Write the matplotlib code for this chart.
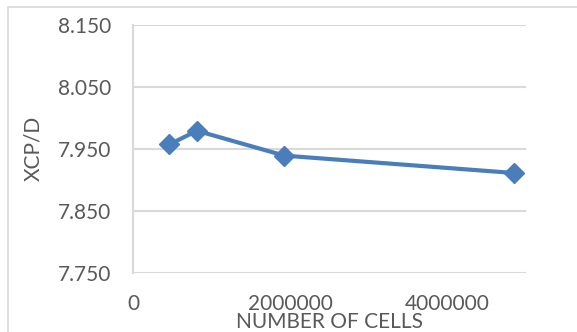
import numpy as np
import matplotlib.pyplot as plt
from matplotlib.patches import Rectangle

# mesh study: number of cells vs XCP/D
cells = [462000, 814000, 1925000, 4850000]
xcp_d = [7.957, 7.979, 7.939, 7.911]

y_ticks = [7.750, 7.850, 7.950, 8.050, 8.150]
x_ticks = [0, 2000000, 4000000]

plt.rcParams['font.family'] = ['Lato', 'DejaVu Sans']

fig = plt.figure(figsize=(5.77, 3.32), dpi=100)
ax = fig.add_axes([0.2305, 0.1777, 0.681, 0.7483])

# chart border
fig.patches.append(Rectangle((8 / 577, -0.1), 1.2, 1 - 7 / 332 + 0.1,
                             transform=fig.transFigure, fill=False,
                             edgecolor='#d9d9d9', linewidth=1.2))

ax.plot(cells, xcp_d, color='#4a7ebb', linewidth=3, marker='D',
        markersize=10, zorder=3)

ax.set_xlim(0, 5000000)
ax.set_ylim(7.750, 8.150)
ax.set_xticks(x_ticks)
ax.set_xticklabels([str(v) for v in x_ticks])
ax.set_yticks(y_ticks)
ax.set_yticklabels([f'{v:.3f}' for v in y_ticks])

ax.grid(axis='y', color='#d9d9d9', linewidth=1.5)
ax.set_axisbelow(True)
for side in ['top', 'right', 'bottom']:
    ax.spines[side].set_visible(False)
ax.spines['left'].set_color('#d9d9d9')
ax.spines['left'].set_linewidth(1.5)

ax.tick_params(axis='both', length=0, labelsize=15, colors='#595959')
ax.tick_params(axis='y', pad=16)
ax.tick_params(axis='x', pad=15)

ax.set_ylabel('XCP/D', fontsize=15, color='#595959', labelpad=10)
ax.set_xlabel('NUMBER OF CELLS', fontsize=15, color='#595959', labelpad=-1)

fig.savefig('out.png', dpi=100)
